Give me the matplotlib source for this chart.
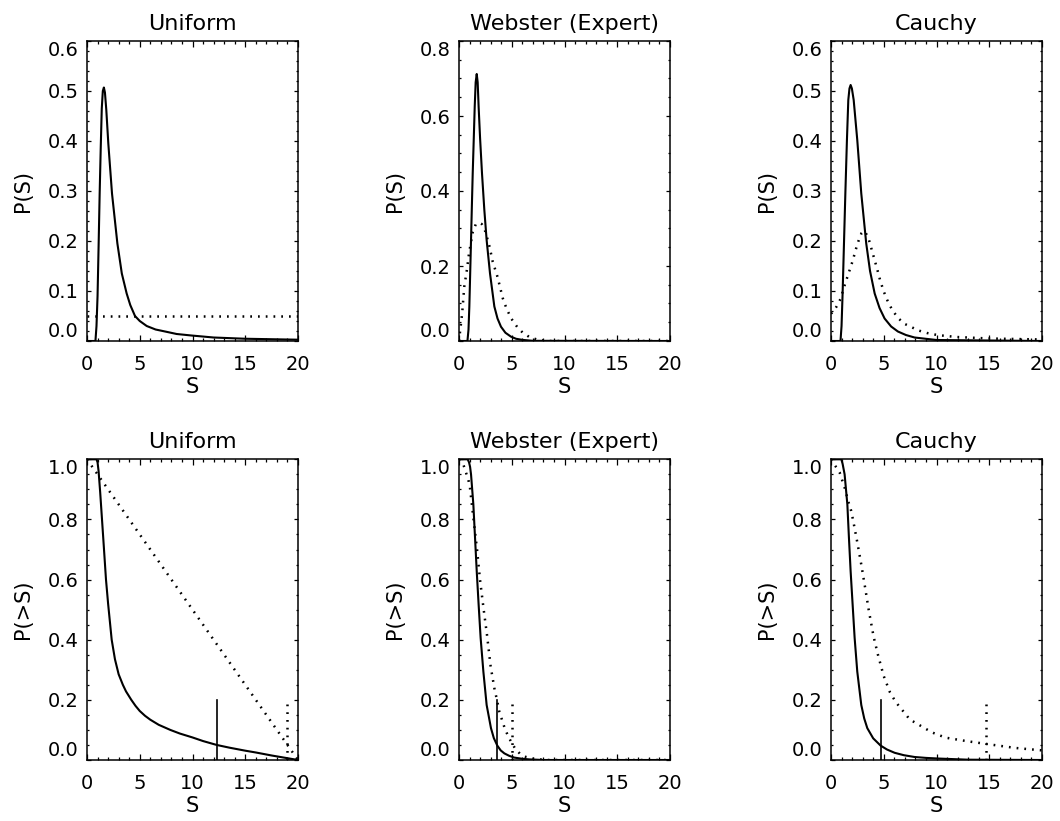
import matplotlib
matplotlib.use('Agg')
import matplotlib.pyplot as plt
from matplotlib.ticker import MultipleLocator, FormatStrFormatter

plt.rcParams['font.family'] = 'DejaVu Sans'

# ---- values ----
titles = ['Uniform', 'Webster (Expert)', 'Cauchy']

# top row, P(S): solid = posterior, dotted = prior
uni_pdf_s = [0, 0.80, 0.90, 1.00, 1.10, 1.20, 1.30, 1.40, 1.50, 1.60, 1.70, 1.83, 2.02, 2.37,
             2.88, 3.30, 3.76, 4.1, 4.55, 5.0, 5.66, 6.5, 7.4, 8.5, 9.9, 12, 15, 20]
uni_pdf_p = [0, 0, 0.03, 0.09, 0.19, 0.295, 0.385, 0.465, 0.50, 0.507, 0.497, 0.462, 0.395, 0.295,
             0.195, 0.135, 0.095, 0.072, 0.05, 0.04, 0.03, 0.023, 0.019, 0.014, 0.011, 0.007,
             0.0045, 0.0026]
uni_pri_s = [0, 20]
uni_pri_p = [0.05, 0.05]

web_pdf_s = [0, 0.8, 0.9, 0.98, 1.06, 1.14, 1.22, 1.30, 1.40, 1.49, 1.58, 1.68, 1.77, 1.86, 2.0,
             2.18, 2.4, 2.62, 2.94, 3.35, 3.65, 3.98, 4.4, 4.93, 5.4, 6.0, 7.0, 20]
web_pdf_p = [0, 0, 0.03, 0.092, 0.18, 0.269, 0.36, 0.447, 0.54, 0.625, 0.69, 0.712, 0.69, 0.625,
             0.54, 0.447, 0.35, 0.269, 0.18, 0.092, 0.06, 0.038, 0.022, 0.0115, 0.006, 0.003,
             0.0005, 0]
web_pri_s = [0, 0.1, 0.3, 0.5, 0.75, 0.95, 1.3, 1.6, 1.9, 2.15, 2.5, 2.9, 3.2, 3.65, 4.15, 4.5,
             4.95, 5.55, 6.05, 6.7, 7.4, 8.5, 20]
web_pri_p = [0, 0.025, 0.074, 0.145, 0.19, 0.234, 0.29, 0.312, 0.315, 0.312, 0.292, 0.251, 0.211,
             0.171, 0.114, 0.087, 0.060, 0.036, 0.022, 0.010, 0.004, 0, 0]

cau_pdf_s = [0, 0.9, 1.0, 1.10, 1.23, 1.36, 1.51, 1.64, 1.75, 1.86, 1.98, 2.15, 2.49, 2.87, 3.34,
             3.7, 4.14, 4.6, 5.08, 5.7, 6.34, 7.1, 7.92, 10, 20]
cau_pdf_p = [0, 0, 0.03, 0.095, 0.195, 0.295, 0.402, 0.482, 0.505, 0.512, 0.505, 0.482, 0.402,
             0.295, 0.195, 0.14, 0.095, 0.066, 0.045, 0.029, 0.019, 0.012, 0.007, 0.002, 0]
cau_pri_s = [0, 0.2, 0.5, 0.9, 1.3, 1.55, 1.8, 2.05, 2.35, 2.65, 2.9, 3.1, 3.3, 3.6, 4.0, 4.4,
             4.65, 5.0, 5.35, 5.8, 6.4, 7.0, 7.7, 8.3, 9.1, 9.8, 10.5, 11.9, 15, 20]
cau_pri_p = [0.055, 0.058, 0.068, 0.084, 0.112, 0.128, 0.144, 0.16, 0.183, 0.203, 0.216, 0.22,
             0.216, 0.202, 0.172, 0.142, 0.122, 0.099, 0.081, 0.062, 0.045, 0.034, 0.027, 0.021,
             0.016, 0.013, 0.011, 0.008, 0.005, 0.003]

# bottom row, P(>S)
uni_cdf_s = [0, 0.9, 1.0, 1.1, 1.25, 1.55, 1.8, 2.0, 2.34, 2.65, 3.0, 3.4, 3.7, 4.2, 4.6, 5.0,
             5.5, 6.0, 6.8, 7.9, 8.8, 10, 11, 12.3, 13.5, 15, 16, 17.5, 18.5, 20]
uni_cdf_p = [1.0, 1.0, 0.99, 0.96, 0.89, 0.733, 0.6, 0.52, 0.4, 0.335, 0.285, 0.25, 0.228, 0.2,
             0.18, 0.163, 0.147, 0.134, 0.117, 0.1, 0.088, 0.075, 0.063, 0.05, 0.041, 0.031, 0.025,
             0.015, 0.009, 0]
uni_pcdf_s = [0, 20]
uni_pcdf_p = [1.0, 0]

web_cdf_s = [0, 0.82, 0.95, 1.05, 1.14, 1.36, 1.52, 1.68, 1.86, 2.05, 2.31, 2.62, 3.03, 3.3,
             3.63, 3.95, 4.30, 4.75, 5.24, 6.0, 6.67, 8, 20]
web_cdf_p = [1, 1, 0.99, 0.975, 0.95, 0.85, 0.739, 0.628, 0.517, 0.406, 0.294, 0.183, 0.106,
             0.073, 0.048, 0.032, 0.022, 0.014, 0.008, 0.004, 0.002, 0, 0]
web_pcdf_s = [0, 0.41, 0.66, 0.88, 1.04, 1.2, 1.36, 1.71, 1.99, 2.34, 2.65, 3.0, 3.38, 3.6, 3.82,
              4.08, 4.33, 4.61, 4.93, 5.34, 5.8, 6.35, 7.2, 8.5, 20]
web_pcdf_p = [1.0, 0.983, 0.956, 0.933, 0.906, 0.856, 0.806, 0.70, 0.60, 0.50, 0.417, 0.311,
              0.233, 0.2, 0.161, 0.133, 0.106, 0.083, 0.061, 0.037, 0.02, 0.01, 0.003, 0, 0]

cau_cdf_s = [0, 0.98, 1.1, 1.29, 1.55, 1.70, 1.86, 2.05, 2.24, 2.49, 2.87, 3.15, 3.44, 4.0, 4.70,
             5.3, 6.03, 6.9, 7.92, 9.0, 10.1, 13, 20]
cau_cdf_p = [1, 1, 0.985, 0.95, 0.85, 0.739, 0.628, 0.517, 0.406, 0.294, 0.183, 0.138, 0.106,
             0.072, 0.048, 0.035, 0.024, 0.016, 0.01, 0.007, 0.005, 0.001, 0]
cau_pcdf_s = [0, 0.41, 0.82, 1.29, 1.67, 1.9, 2.08, 2.46, 2.87, 3.25, 3.57, 4.04, 4.45, 4.99,
              5.59, 6.1, 6.6, 7.0, 7.45, 8.24, 8.87, 9.56, 10.2, 10.92, 11.6, 13, 15, 17.5, 20]
cau_pcdf_p = [1.0, 0.978, 0.956, 0.906, 0.856, 0.83, 0.80, 0.73, 0.65, 0.57, 0.50, 0.41, 0.35,
              0.28, 0.225, 0.195, 0.172, 0.156, 0.135, 0.119, 0.106, 0.092, 0.083, 0.074, 0.07,
              0.062, 0.052, 0.04, 0.032]

# 95% limits (solid = posterior, dotted = prior), drawn as short bars up to 0.2
limit_post = [12.3, 3.63, 4.70]
limit_prior = [19.0, 5.02, 14.7]
limit_top = 0.2

top_data = [(uni_pdf_s, uni_pdf_p, uni_pri_s, uni_pri_p),
            (web_pdf_s, web_pdf_p, web_pri_s, web_pri_p),
            (cau_pdf_s, cau_pdf_p, cau_pri_s, cau_pri_p)]
bot_data = [(uni_cdf_s, uni_cdf_p, uni_pcdf_s, uni_pcdf_p),
            (web_cdf_s, web_cdf_p, web_pcdf_s, web_pcdf_p),
            (cau_cdf_s, cau_cdf_p, cau_pcdf_s, cau_pcdf_p)]
top_yticks = [[0.0, 0.1, 0.2, 0.3, 0.4, 0.5, 0.6],
              [0.0, 0.2, 0.4, 0.6, 0.8],
              [0.0, 0.1, 0.2, 0.3, 0.4, 0.5, 0.6]]
top_yminor = [0.02, 0.05, 0.02]
bot_yticks = [0.0, 0.2, 0.4, 0.6, 0.8, 1.0]

# ---- layout (pixels of a 1060x821 canvas) ----
W, H = 1060.0, 821.0
lefts = [87, 459, 831]
pw = 211
dots = (0, (0.7, 2.4))
dot_lw = 1.8

fig = plt.figure(figsize=(10.6, 8.21), dpi=100)


def style_axes(ax, yticks, yminor, ylabel):
    ax.xaxis.set_major_locator(MultipleLocator(5))
    ax.xaxis.set_minor_locator(MultipleLocator(1))
    ax.set_yticks(yticks)
    ax.yaxis.set_minor_locator(MultipleLocator(yminor))
    ax.yaxis.set_major_formatter(FormatStrFormatter('%.1f'))
    ax.set_xlim(0, 20)
    ax.set_ylim(yticks[0], yticks[-1])
    ax.tick_params(which='both', direction='in', top=True, right=True, labelsize=14, width=0.9)
    ax.tick_params(axis='x', which='major', length=4.2, pad=10)
    ax.tick_params(axis='x', which='minor', length=2.1)
    ax.tick_params(axis='y', which='major', length=3.0, pad=6)
    ax.tick_params(axis='y', which='minor', length=1.5)
    for sp in ax.spines.values():
        sp.set_linewidth(1.1)
    ax.set_xlabel('S', fontsize=15)
    ax.set_ylabel(ylabel, fontsize=15)
    ax.xaxis.set_label_coords(0.5, -0.12)
    ax.yaxis.set_label_coords(-0.255, 0.5)
    # IDL style: end labels kept inside the frame
    ticks = ax.yaxis.get_major_ticks()
    ticks[0].label1.set_verticalalignment('bottom')
    ticks[-1].label1.set_verticalalignment('top')


for k in range(3):
    # top row
    ax = fig.add_axes([lefts[k] / W, 1 - 341 / H, pw / W, 300 / H])
    s1, p1, s2, p2 = top_data[k]
    ax.plot(s1, p1, '-', color='black', lw=1.5)
    ax.plot(s2, p2, linestyle=dots, color='black', lw=dot_lw)
    style_axes(ax, top_yticks[k], top_yminor[k], 'P(S)')
    ax.set_title(titles[k], fontsize=16, pad=8)

    # bottom row
    ax = fig.add_axes([lefts[k] / W, 1 - 760 / H, pw / W, 300.7 / H])
    s1, p1, s2, p2 = bot_data[k]
    ax.plot(s1, p1, '-', color='black', lw=1.5)
    ax.plot(s2, p2, linestyle=dots, color='black', lw=dot_lw)
    ax.plot([limit_post[k], limit_post[k]], [0, limit_top], '-', color='black', lw=1.2)
    ax.plot([limit_prior[k], limit_prior[k]], [0, limit_top], linestyle=dots, color='black',
            lw=dot_lw)
    style_axes(ax, bot_yticks, 0.05, 'P(>S)')
    ax.set_title(titles[k], fontsize=16, pad=8)

fig.savefig('out.png', dpi=100)
